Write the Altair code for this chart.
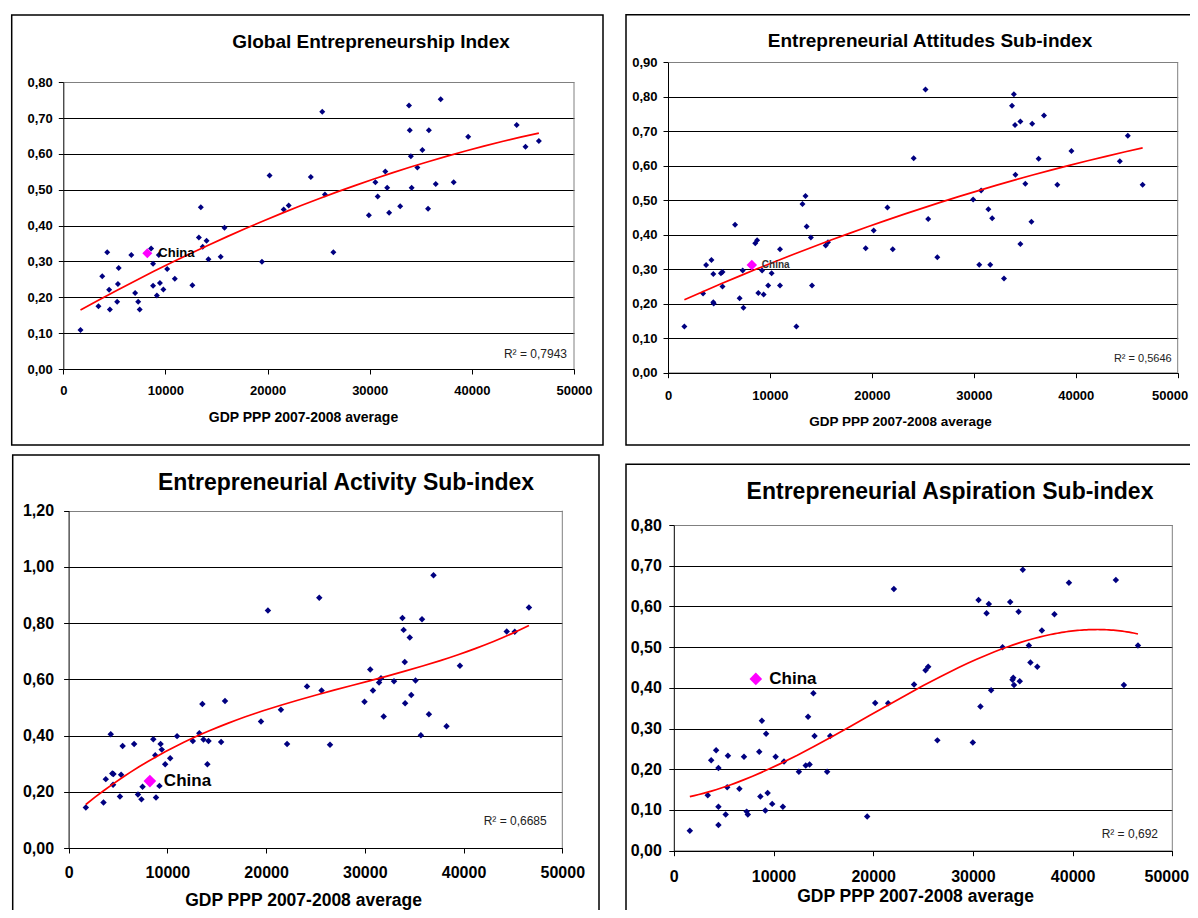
import altair as alt
import pandas as pd

FONT = "Liberation Sans"
NAVY = "#000080"
MAGENTA = "#FF00FF"
RED = "#FF0000"
W, H = 1182, 902

X_TICKS = [0, 10000, 20000, 30000, 40000, 50000]
X_TITLE = "GDP PPP 2007-2008 average"

# ---------------- Panel 1: Global Entrepreneurship Index ----------------
GEI_TITLE = "Global Entrepreneurship Index"
GEI_R2 = "R² = 0,7943"
GEI_Y_TICKS = [0.0, 0.1, 0.2, 0.3, 0.4, 0.5, 0.6, 0.7, 0.8]
GEI_GDP = [1683, 3440, 3815, 4300, 4488, 4562, 5348, 5273, 5423, 6657,
           7031, 7330, 7479, 8601, 8788, 8788, 9162, 9461, 9349, 9798,
           10172, 10920, 12640, 13276, 13463, 13650, 14024, 14211, 15408, 15782,
           19447, 20194, 21578, 22064, 24233, 25355, 25617, 26440, 29918, 30554,
           30778, 31526, 31713, 31900, 32984, 33844, 33919, 34031, 34106, 34667,
           35153, 35714, 35789, 36462, 36948, 38220, 39641, 44390, 45251, 46560]
GEI_VAL = [0.109, 0.175, 0.259, 0.326, 0.221, 0.166, 0.237, 0.188, 0.282, 0.318,
           0.212, 0.188, 0.166, 0.336, 0.294, 0.232, 0.205, 0.240, 0.318, 0.222,
           0.279, 0.252, 0.234, 0.367, 0.451, 0.341, 0.358, 0.306, 0.313, 0.394,
           0.299, 0.540, 0.445, 0.456, 0.536, 0.718, 0.487, 0.326, 0.429, 0.521,
           0.481, 0.551, 0.506, 0.436, 0.454, 0.735, 0.666, 0.594, 0.506, 0.562,
           0.611, 0.447, 0.666, 0.516, 0.753, 0.521, 0.648, 0.681, 0.620, 0.636]
GEI_CHINA = [8227, 0.323]

# ---------------- Panel 2: Entrepreneurial Attitudes Sub-index ----------------
ATT_TITLE = "Entrepreneurial Attitudes Sub-index"
ATT_R2 = "R² = 0,5646"
ATT_Y_TICKS = [0.0, 0.1, 0.2, 0.3, 0.4, 0.5, 0.6, 0.7, 0.8, 0.9]
ATT_GDP = [1607, 3438, 3737, 4260, 4447, 4447, 4484, 5194, 5344, 5344,
           6577, 7025, 7324, 7399, 8558, 8744, 8857, 9230, 9380, 9828,
           10164, 10987, 10987, 12594, 13191, 13490, 13602, 14013, 14126, 15471,
           15695, 19395, 20179, 21525, 22048, 24103, 25262, 25523, 26420, 29933,
           30531, 30718, 31428, 31614, 31801, 32960, 33744, 33931, 34043, 34081,
           34567, 34567, 35052, 35650, 35725, 36360, 36883, 38191, 39574, 44320,
           45105, 46562]
ATT_VAL = [0.134, 0.230, 0.312, 0.327, 0.286, 0.204, 0.201, 0.288, 0.292, 0.250,
           0.429, 0.216, 0.296, 0.188, 0.375, 0.384, 0.231, 0.296, 0.227, 0.253,
           0.288, 0.358, 0.253, 0.134, 0.489, 0.512, 0.424, 0.392, 0.253, 0.369,
           0.378, 0.361, 0.412, 0.479, 0.358, 0.622, 0.821, 0.446, 0.335, 0.502,
           0.313, 0.528, 0.474, 0.313, 0.448, 0.273, 0.774, 0.807, 0.718, 0.574,
           0.728, 0.373, 0.548, 0.438, 0.722, 0.620, 0.746, 0.545, 0.643, 0.613,
           0.687, 0.545]
ATT_CHINA = [8221, 0.312]

# ---------------- Panel 3: Entrepreneurial Activity Sub-index ----------------
ACT_TITLE = "Entrepreneurial Activity Sub-index"
ACT_R2 = "R² = 0,6685"
ACT_Y_TICKS = [0.0, 0.2, 0.4, 0.6, 0.8, 1.0, 1.2]
ACT_GDP = [1747, 3533, 3766, 4270, 4425, 4542, 4503, 5202, 5318, 5474,
           6638, 7026, 7376, 7492, 8579, 8773, 8851, 9200, 9317, 9433,
           9783, 10287, 10986, 12578, 13237, 13548, 13665, 14053, 14169, 15450,
           15839, 19488, 20186, 21506, 22127, 24146, 25388, 25621, 26475, 29969,
           30551, 30823, 31444, 31638, 31910, 32958, 33812, 33929, 34045, 34084,
           34550, 34705, 35132, 35675, 35792, 36491, 36957, 38276, 39635, 44371,
           45186, 46623]
ACT_VAL = [0.144, 0.162, 0.245, 0.405, 0.265, 0.263, 0.225, 0.183, 0.261, 0.363,
           0.370, 0.190, 0.173, 0.218, 0.387, 0.330, 0.180, 0.221, 0.370, 0.350,
           0.298, 0.319, 0.398, 0.381, 0.408, 0.512, 0.386, 0.298, 0.381, 0.377,
           0.523, 0.450, 0.845, 0.492, 0.370, 0.575, 0.890, 0.560, 0.367, 0.520,
           0.635, 0.560, 0.589, 0.604, 0.468, 0.593, 0.818, 0.776, 0.662, 0.515,
           0.749, 0.544, 0.596, 0.401, 0.814, 0.476, 0.970, 0.433, 0.648, 0.770,
           0.769, 0.856]
ACT_CHINA = [8230, 0.238]

# ---------------- Panel 4: Entrepreneurial Aspiration Sub-index ----------------
ASP_TITLE = "Entrepreneurial Aspiration Sub-index"
ASP_R2 = "R² = 0,692"
ASP_Y_TICKS = [0.0, 0.1, 0.2, 0.3, 0.4, 0.5, 0.6, 0.7, 0.8]
ASP_GDP = [1607, 3405, 3749, 4246, 4476, 4476, 4476, 5203, 5356, 5432,
           6580, 7039, 7307, 7422, 8569, 8684, 8837, 9181, 9258, 9411,
           9870, 10214, 10941, 11056, 12548, 13236, 13466, 13619, 14002, 14116,
           15379, 15685, 19395, 20199, 21500, 22073, 24101, 25249, 25516, 26435,
           29992, 30566, 30757, 31370, 31599, 31829, 32976, 33741, 33971, 34047,
           34124, 34583, 34698, 35004, 35616, 35769, 36458, 36917, 38179, 39633,
           44338, 45142, 46557]
ASP_VAL = [0.049, 0.136, 0.222, 0.247, 0.203, 0.108, 0.063, 0.089, 0.156, 0.233,
           0.152, 0.231, 0.096, 0.089, 0.243, 0.133, 0.319, 0.099, 0.287, 0.142,
           0.115, 0.231, 0.108, 0.219, 0.194, 0.209, 0.329, 0.212, 0.387, 0.282,
           0.194, 0.282, 0.084, 0.363, 0.362, 0.643, 0.408, 0.443, 0.452, 0.271,
           0.266, 0.616, 0.354, 0.583, 0.606, 0.394, 0.500, 0.611, 0.420, 0.425,
           0.407, 0.587, 0.416, 0.690, 0.504, 0.462, 0.452, 0.541, 0.581, 0.658,
           0.665, 0.407, 0.504]
ASP_CHINA = [8225, 0.422]

ONE = pd.DataFrame({"k": [0]})
YLAB = "replace(format(datum.value, '.2f'), '.', ',')"


def panel(gdp, val, china, order, title, r2, yticks, L):
    df = pd.DataFrame({
        "gdp": gdp + [china[0]],
        "v": val + [china[1]],
        "china": [0] * len(gdp) + [1],
    })
    xs = alt.Scale(domain=[X_TICKS[0], X_TICKS[-1]], range=L["xr"], nice=False, zero=False)
    ys = alt.Scale(domain=[yticks[0], yticks[-1]], range=L["yr"], nice=False, zero=False)
    last_lab = {"condition": {"test": f"datum.value == {X_TICKS[-1]}", "value": L["lastoff"]},
                "value": 0}
    top_grid = {"condition": {"test": f"datum.value == {yticks[-1]}", "value": "#808080"},
                "value": "black"}
    xaxis = alt.Axis(
        orient="bottom", offset=L["yr"][0] - H, values=X_TICKS, format="d",
        labelFlush=False, labelOverlap=False, labelFont=FONT, labelFontSize=L["fs"],
        labelFontWeight="bold", labelColor="black", labelPadding=L["xpad"],
        labelOffset=last_lab,
        tickSize=5, tickColor="black", tickWidth=1, domainColor="black", domainWidth=1,
        grid=False, title=X_TITLE, titleX=L["xt"][0], titleY=L["xt"][1] - L["yr"][0],
        titleAlign="center", titleBaseline="middle", titleAngle=0, titleFont=FONT,
        titleFontSize=L["xtfs"], titleFontWeight="bold", titleColor="black",
    )
    yaxis = alt.Axis(
        orient="left", offset=-L["xr"][0], values=yticks, labelExpr=YLAB,
        labelOverlap=False, labelFont=FONT, labelFontSize=L["fs"], labelFontWeight="bold",
        labelColor="black", labelPadding=L["ypad"], tickSize=5, tickColor="black",
        tickWidth=1, domainColor="black", domainWidth=1, grid=True, gridColor=top_grid,
        gridWidth=1, title="",
    )
    x = alt.X("gdp:Q", scale=xs, axis=xaxis)
    y = alt.Y("v:Q", scale=ys, axis=yaxis)
    xn = alt.X("gdp:Q", scale=xs, axis=None)
    yn = alt.Y("v:Q", scale=ys, axis=None)

    base = alt.Chart(df)
    box = alt.Chart(ONE).mark_rect(fill="transparent", stroke="black", strokeWidth=1.5).encode(
        x=alt.value(L["box"][0]), x2=alt.value(L["box"][2]),
        y=alt.value(L["box"][1]), y2=alt.value(L["box"][3]))
    edge = alt.Chart(ONE).mark_rule(color="#808080", strokeWidth=1).encode(
        x=alt.XDatum(X_TICKS[-1], type="quantitative", scale=xs, axis=None),
        y=alt.YDatum(yticks[0], type="quantitative", scale=ys, axis=None),
        y2=alt.Y2Datum(yticks[-1]))
    pts = base.transform_filter("datum.china == 0").mark_point(
        shape="diamond", filled=True, color=NAVY, size=L["ps"], opacity=1).encode(x=x, y=y)
    trend = base.transform_regression("gdp", "v", method="poly", order=order).mark_line(
        color=RED, strokeWidth=1.7).encode(x=xn, y=yn)
    chn = base.transform_filter("datum.china == 1")
    cpt = chn.mark_point(shape="diamond", filled=True, color=MAGENTA, size=L["cs"],
                         opacity=1).encode(x=xn, y=yn)
    clab = chn.mark_text(text="China", align="left", baseline="middle", dx=L["cdx"],
                         font=FONT, fontSize=L["cfs"], fontWeight="bold",
                         color=L["ccol"]).encode(x=xn, y=yn)
    ttl = alt.Chart(pd.DataFrame({"t": [title]})).mark_text(
        font=FONT, fontSize=L["tfs"], fontWeight="bold", color="black",
        align="center", baseline="middle").encode(
        text="t:N", x=alt.value(L["tt"][0]), y=alt.value(L["tt"][1]))
    r2t = alt.Chart(pd.DataFrame({"t": [r2]})).mark_text(
        font=FONT, fontSize=L["rfs"], color="#222222",
        align="right", baseline="middle").encode(
        text="t:N", x=alt.value(L["rt"][0]), y=alt.value(L["rt"][1]))
    return [box, pts, edge, trend, cpt, clab, ttl, r2t]


L1 = dict(xr=[55.3, 566], yr=[361, 74.3], fs=13, ypad=6, xpad=10, xt=(295, 409), xtfs=14,
          tt=(363, 34), tfs=19, rt=(559, 346), rfs=12, cdx=11, cfs=13, ccol="black",
          ps=36, cs=100, box=(3.7, 7, 595, 437), lastoff=0)
L2 = dict(xr=[660, 1169.7], yr=[364.7, 54.3], fs=13, ypad=6, xpad=12, xt=(892, 413), xtfs=13.5,
          tt=(922, 33), tfs=19, rt=(1163.7, 351), rfs=11, cdx=10, cfs=10, ccol="#333333",
          ps=36, cs=110, box=(618, 6.7, 1300, 437), lastoff=-8)
L3 = dict(xr=[60.6, 554.3], yr=[840, 502.7], fs=16, ypad=10, xpad=11, xt=(295, 892), xtfs=17.5,
          tt=(338, 475.3), tfs=23, rt=(538.7, 812.7), rfs=12, cdx=14, cfs=17, ccol="black",
          ps=42, cs=160, box=(4.7, 447, 591, 1000), lastoff=0)
L4 = dict(xr=[665.8, 1164.3], yr=[842.7, 517], fs=16, ypad=7.5, xpad=12.5, xt=(907, 888), xtfs=17.5,
          tt=(942, 484.3), tfs=23, rt=(1150, 826), rfs=12, cdx=13.5, cfs=17, ccol="black",
          ps=42, cs=160, box=(618, 456.3, 1300, 1000), lastoff=-6)

layers = (
    panel(GEI_GDP, GEI_VAL, GEI_CHINA, 2, GEI_TITLE, GEI_R2, GEI_Y_TICKS, L1)
    + panel(ATT_GDP, ATT_VAL, ATT_CHINA, 2, ATT_TITLE, ATT_R2, ATT_Y_TICKS, L2)
    + panel(ACT_GDP, ACT_VAL, ACT_CHINA, 3, ACT_TITLE, ACT_R2, ACT_Y_TICKS, L3)
    + panel(ASP_GDP, ASP_VAL, ASP_CHINA, 3, ASP_TITLE, ASP_R2, ASP_Y_TICKS, L4)
)

chart = alt.layer(*layers).resolve_scale(
    x="independent", y="independent"
).resolve_axis(
    x="independent", y="independent"
).properties(
    width=W, height=H, padding=0, autosize=alt.AutoSizeParams(type="none")
).configure_view(strokeWidth=0)

chart.save("out.html", embed_options={"renderer": "svg", "actions": False})
